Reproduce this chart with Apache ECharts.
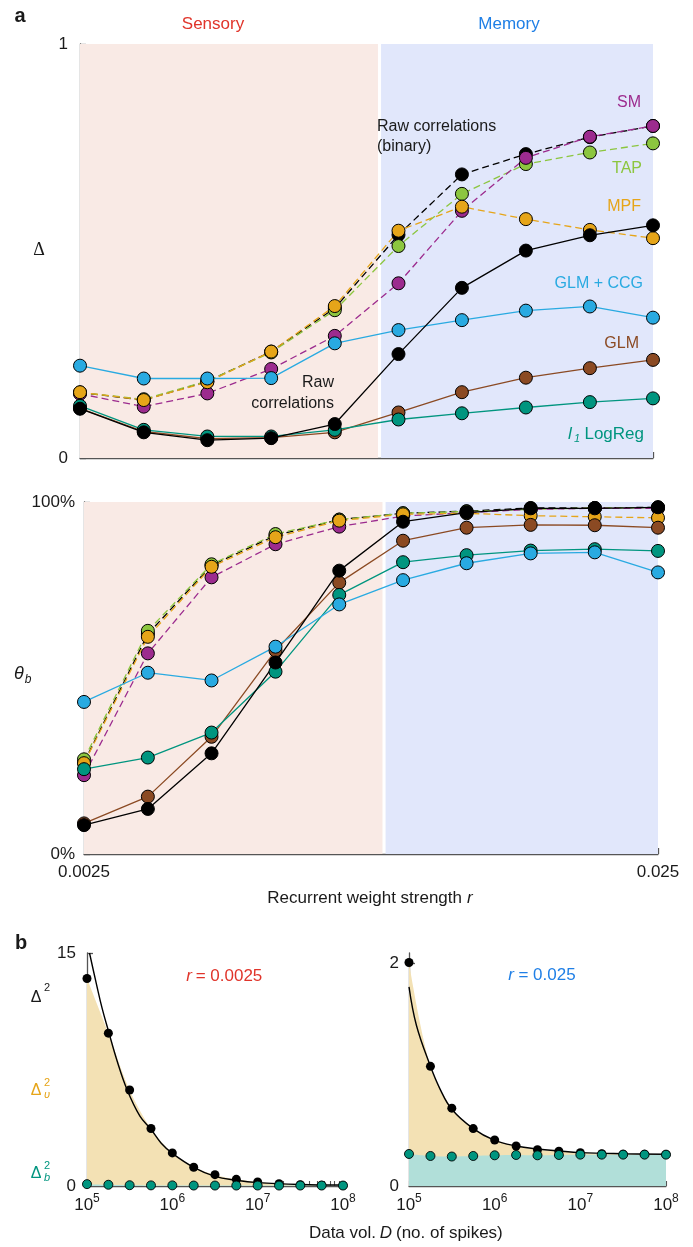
<!DOCTYPE html>
<html>
<head>
<meta charset="utf-8">
<script src="https://cdn.jsdelivr.net/npm/echarts@6/dist/echarts.min.js"></script>
<style>
  html, body { margin: 0; padding: 0; background: #fff; }
  #chart { width: 693px; height: 1247px; }
</style>
</head>
<body>
<div id="chart"></div>
<script>
// ---------- panel a: recurrent weight strength sweep ----------
const rValues = [0.0025, 0.00323, 0.00417, 0.00539, 0.00696, 0.00899, 0.0116, 0.0150, 0.0194, 0.025];
const regimeBoundary = 0.00833;           // sensory / memory split
const rTickLabels = ['0.0025', '0.025'];

// reconstruction error Δ
const deltaRawBinary = [0.158, 0.140, 0.185, 0.257, 0.362, 0.539, 0.685, 0.734, 0.775, 0.802];
const deltaTAP       = [0.158, 0.142, 0.186, 0.255, 0.357, 0.512, 0.638, 0.710, 0.738, 0.760];
const deltaSM        = [0.155, 0.124, 0.156, 0.215, 0.295, 0.422, 0.597, 0.725, 0.776, 0.802];
const deltaMPF       = [0.159, 0.140, 0.183, 0.257, 0.367, 0.549, 0.607, 0.577, 0.551, 0.531];
const deltaGLM       = [0.120, 0.064, 0.047, 0.049, 0.062, 0.110, 0.159, 0.194, 0.217, 0.237];
const deltaLogReg    = [0.126, 0.068, 0.052, 0.052, 0.068, 0.093, 0.108, 0.122, 0.135, 0.144];
const deltaCCG       = [0.223, 0.192, 0.192, 0.193, 0.277, 0.309, 0.333, 0.356, 0.366, 0.339];
const deltaRaw       = [0.119, 0.062, 0.043, 0.048, 0.082, 0.251, 0.411, 0.501, 0.538, 0.562];

// fraction of correctly classified couplings θb (%)
const thetaRawBinary = [26.0, 62.5, 82.0, 90.5, 95.0, 96.8, 97.4, 98.3, 98.3, 98.5];
const thetaTAP       = [26.9, 63.4, 82.3, 90.9, 95.0, 96.8, 97.3, 97.9, 98.3, 98.4];
const thetaSM        = [22.4, 57.0, 78.6, 88.0, 93.0, 96.0, 97.0, 97.9, 98.2, 98.2];
const thetaMPF       = [25.8, 61.7, 81.6, 90.0, 94.7, 96.5, 96.8, 96.1, 95.8, 95.5];
const thetaGLM       = [8.7, 16.3, 33.3, 57.8, 77.1, 89.0, 92.7, 93.5, 93.4, 92.7];
const thetaLogReg    = [24.1, 27.4, 34.5, 51.8, 73.6, 82.9, 84.9, 86.2, 86.6, 86.1];
const thetaCCG       = [43.2, 51.5, 49.3, 58.9, 70.9, 77.8, 82.6, 85.4, 85.7, 80.0];
const thetaRaw       = [8.2, 12.8, 28.6, 54.4, 80.5, 94.4, 97.0, 98.2, 98.2, 98.5];

// ---------- panel b: error vs data volume ----------
const dataVol     = [1e5, 1.78e5, 3.16e5, 5.62e5, 1e6, 1.78e6, 3.16e6, 5.62e6, 1e7, 1.78e7, 3.16e7, 5.62e7, 1e8];
const sensDelta2  = [13.36, 9.84, 6.18, 3.70, 2.13, 1.21, 0.73, 0.43, 0.26, 0.15, 0.08, 0.05, 0.03];
const sensDeltaB2 = [0.12, 0.08, 0.05, 0.04, 0.04, 0.03, 0.03, 0.03, 0.03, 0.03, 0.03, 0.03, 0.03];
const memDelta2   = [2.01, 1.076, 0.70, 0.516, 0.414, 0.36, 0.327, 0.312, 0.30, 0.29, 0.286, 0.285, 0.284];
const memDeltaB2  = [0.288, 0.27, 0.265, 0.27, 0.276, 0.279, 0.276, 0.279, 0.282, 0.282, 0.282, 0.282, 0.282];

// fitted error curves
const sensFitD = [1.07e5, 1.29e5, 1.51e5, 1.78e5, 2.24e5, 2.95e5, 4.17e5, 5.62e5, 7.41e5, 1e6, 1.78e6, 3.16e6, 5.62e6, 1e7, 3.16e7, 1e8];
const sensFit  = [15.0, 13.0, 11.4, 10.0, 8.1, 6.2, 4.5, 3.65, 2.75, 2.1, 1.2, 0.62, 0.37, 0.22, 0.1, 0.06];
const memFitD  = [1e5, 1.22e5, 1.78e5, 2.29e5, 3.16e5, 5.62e5, 1e6, 1.78e6, 3.16e6, 5.62e6, 1e7, 3.16e7, 1e8];
const memFit   = [1.79, 1.445, 1.076, 0.876, 0.69, 0.516, 0.41, 0.36, 0.333, 0.315, 0.30, 0.29, 0.285];

const dExpTicks = [5, 6, 7, 8];

// ---------- styling ----------
const FONT = "'Liberation Sans', Arial, Helvetica, sans-serif";
const SERIF = "'Liberation Serif', 'DejaVu Serif', serif";
const AXIS = '#555';
const TXT = '#1a1a1a';
const C = {
  raw: '#000000', sm: '#9c2b8e', tap: '#8cc63f', mpf: '#e6a519',
  glm: '#8b4a23', logreg: '#00957f', ccg: '#29aae1',
  sensory: '#e0342a', memory: '#1f7fe6',
  pink: '#f9eae5', blue: '#e1e7fb', wheat: '#f3e1b4', tealFill: '#b1dfd9'
};

const lg = Math.log10;
const rMin = lg(rValues[0]), rMax = lg(rValues[rValues.length - 1]);
const gap = 0.0027;

function methodSeries(values, color, dashed, g) {
  return {
    type: 'line', xAxisIndex: g, yAxisIndex: g,
    data: rValues.map((r, i) => [lg(r), values[i]]),
    symbol: 'circle', symbolSize: 13,
    lineStyle: { color, width: 1.3, type: dashed ? [7, 4] : 'solid' },
    itemStyle: { color, borderColor: '#000', borderWidth: 1, opacity: 1 },
    z: 3, silent: true
  };
}

function regimeBackground(g) {
  return {
    type: 'line', xAxisIndex: g, yAxisIndex: g, data: [], z: -1, silent: true,
    markArea: {
      silent: true,
      data: [
        [{ xAxis: rMin, itemStyle: { color: C.pink } }, { xAxis: lg(regimeBoundary) - gap }],
        [{ xAxis: lg(regimeBoundary) + gap, itemStyle: { color: C.blue } }, { xAxis: rMax }]
      ]
    }
  };
}

function panelSeries(g, vals) {
  return [
    regimeBackground(g),
    methodSeries(vals.binary, C.raw, true, g),
    methodSeries(vals.tap, C.tap, true, g),
    methodSeries(vals.sm, C.sm, true, g),
    methodSeries(vals.mpf, C.mpf, true, g),
    methodSeries(vals.glm, C.glm, false, g),
    methodSeries(vals.logreg, C.logreg, false, g),
    methodSeries(vals.ccg, C.ccg, false, g),
    methodSeries(vals.raw, C.raw, false, g)
  ];
}

const oddTicks = rValues.filter((r, i) => i % 2 === 1).map(lg);

function rAxis(g, showLabels) {
  return {
    type: 'value', gridIndex: g, min: rMin, max: rMax,
    axisLine: { lineStyle: { color: AXIS, width: 1.3 } },
    axisTick: { show: true, inside: true, length: 6, customValues: oddTicks, lineStyle: { color: AXIS, width: 1.3 } },
    axisLabel: {
      show: showLabels, customValues: [rMin, rMax], margin: 10,
      fontSize: 17, color: TXT, fontFamily: FONT,
      formatter: v => (Math.abs(v - rMin) < 1e-9 ? rTickLabels[0] : rTickLabels[1])
    },
    splitLine: { show: false }
  };
}

function valAxis(g, max, interval, labelVals, fmt, tickVals, margin) {
  const ax = {
    type: 'value', gridIndex: g, min: 0, max,
    axisLine: { show: true, lineStyle: { color: AXIS, width: 1.3 } },
    axisTick: { show: true, inside: true, length: 6, lineStyle: { color: AXIS, width: 1.3 } },
    axisLabel: { customValues: labelVals, formatter: fmt, margin, fontSize: 17, color: TXT, fontFamily: FONT },
    splitLine: { show: false }
  };
  if (interval) ax.interval = interval;
  if (tickVals) ax.axisTick.customValues = tickVals;
  return ax;
}

// log-spaced minor ticks for data volume axes
const dTicks = [];
for (let e = 5; e < 8; e++) for (let k = 1; k <= 9; k++) dTicks.push(lg(k * Math.pow(10, e)));
dTicks.push(8);

function dAxis(g) {
  return {
    type: 'value', gridIndex: g, min: 5, max: 8,
    axisLine: { lineStyle: { color: AXIS, width: 1.3 } },
    axisTick: { show: true, inside: true, length: 5, customValues: dTicks, lineStyle: { color: AXIS, width: 1.1 } },
    axisLabel: {
      customValues: dExpTicks, margin: 7, color: TXT, fontFamily: FONT, fontSize: 17,
      formatter: v => '{b|10}{s|' + v + '}',
      rich: {
        b: { fontSize: 17, fontFamily: FONT, color: TXT, lineHeight: 21, verticalAlign: 'bottom' },
        s: { fontSize: 12, fontFamily: FONT, color: TXT, lineHeight: 12, verticalAlign: 'top' }
      }
    },
    splitLine: { show: false }
  };
}

function volSeries(g, black, teal, fitD, fit) {
  const pts = (arr) => dataVol.map((d, i) => [lg(d), arr[i]]);
  return [
    { type: 'line', xAxisIndex: g, yAxisIndex: g, data: pts(black), smooth: 0.35, symbol: 'none',
      lineStyle: { width: 0, opacity: 0 }, areaStyle: { color: C.wheat, opacity: 1 }, z: 1, silent: true },
    { type: 'line', xAxisIndex: g, yAxisIndex: g, data: pts(teal), smooth: 0.35, symbol: 'none',
      lineStyle: { width: 0, opacity: 0 }, areaStyle: { color: C.tealFill, opacity: 1 }, z: 1, silent: true },
    { type: 'line', xAxisIndex: g, yAxisIndex: g, data: fitD.map((d, i) => [lg(d), fit[i]]), smooth: 0.4,
      symbol: 'none', lineStyle: { color: '#000', width: 1.4 }, z: 2, silent: true },
    { type: 'scatter', xAxisIndex: g, yAxisIndex: g, data: pts(black), symbolSize: 9,
      itemStyle: { color: '#000', opacity: 1 }, z: 3, silent: true },
    { type: 'scatter', xAxisIndex: g, yAxisIndex: g, data: pts(teal), symbolSize: 9,
      itemStyle: { color: C.logreg, borderColor: '#000', borderWidth: 0.9, opacity: 1 }, z: 4, silent: true }
  ];
}

function txt(x, y, text, opts = {}) {
  const align = opts.align || 'center';
  return {
    type: 'text', x, y, silent: true, z: 100,
    style: {
      text, fill: opts.color || TXT,
      fontSize: opts.size || 16, fontFamily: opts.family || FONT,
      fontStyle: opts.italic ? 'italic' : 'normal', fontWeight: opts.bold ? 'bold' : 'normal',
      align, textAlign: align, verticalAlign: 'middle', textVerticalAlign: 'middle'
    }
  };
}

const graphics = [
  txt(20, 16, 'a', { bold: true, size: 20 }),
  txt(213, 24, 'Sensory', { color: C.sensory, size: 17 }),
  txt(509, 24, 'Memory', { color: C.memory, size: 17 }),
  txt(39, 250, 'Δ', { family: SERIF, size: 18 }),
  txt(641, 103, 'SM', { color: C.sm, align: 'right' }),
  txt(377, 127, 'Raw correlations', { align: 'left' }),
  txt(377, 147, '(binary)', { align: 'left' }),
  txt(642, 169, 'TAP', { color: C.tap, align: 'right' }),
  txt(641, 207, 'MPF', { color: C.mpf, align: 'right' }),
  txt(643, 284, 'GLM + CCG', { color: C.ccg, align: 'right' }),
  txt(639, 344, 'GLM', { color: C.glm, align: 'right' }),
  txt(568, 434, 'l', { color: C.logreg, italic: true, align: 'left', size: 17 }),
  txt(574, 439, '1', { color: C.logreg, italic: true, align: 'left', size: 11 }),
  txt(644, 434, 'LogReg', { color: C.logreg, align: 'right', size: 17 }),
  txt(334, 383, 'Raw', { align: 'right' }),
  txt(334, 404, 'correlations', { align: 'right' }),
  txt(19, 674, 'θ', { italic: true, size: 18 }),
  txt(28, 680, 'b', { italic: true, size: 12 }),
  txt(462, 898, 'Recurrent weight strength', { size: 17, align: 'right' }),
  txt(467, 898, 'r', { italic: true, size: 17, align: 'left' }),
  txt(21, 943, 'b', { bold: true, size: 20 }),
  txt(36, 998, 'Δ', { size: 16 }),
  txt(47, 988, '2', { size: 11 }),
  txt(36, 1091, 'Δ', { size: 16, color: C.mpf }),
  txt(47, 1083, '2', { size: 11, color: C.mpf }),
  txt(47, 1095, 'υ', { size: 11, color: C.mpf, italic: true }),
  txt(36, 1174, 'Δ', { size: 16, color: C.logreg }),
  txt(47, 1166, '2', { size: 11, color: C.logreg }),
  txt(47, 1178, 'b', { size: 11, color: C.logreg, italic: true }),
  txt(189, 976, 'r', { italic: true, color: C.sensory, size: 17 }),
  txt(229, 976, '= 0.0025', { color: C.sensory, size: 17 }),
  txt(511, 975, 'r', { italic: true, color: C.memory, size: 17 }),
  txt(547, 975, '= 0.025', { color: C.memory, size: 17 }),
  txt(376, 1233, 'Data vol.', { size: 17, align: 'right' }),
  txt(386, 1233, 'D', { size: 17, italic: true }),
  txt(396, 1233, '(no. of spikes)', { size: 17, align: 'left' })
];

const option = {
  animation: false,
  textStyle: { fontFamily: FONT },
  grid: [
    { left: 80, top: 44, width: 573, height: 414 },
    { left: 84, top: 502, width: 574, height: 352 },
    { left: 87, top: 953, width: 256, height: 233 },
    { left: 409, top: 953, width: 257, height: 233 }
  ],
  xAxis: [rAxis(0, false), rAxis(1, true), dAxis(2), dAxis(3)],
  yAxis: [
    valAxis(0, 1, 0.2, [0, 1], v => String(v), null, 12),
    valAxis(1, 100, 20, [0, 100], v => v + '%', null, 9),
    valAxis(2, 15, null, [0, 15], v => String(v), [15], 11),
    valAxis(3, 2.095, null, [0, 2], v => String(v), [2], 10)
  ],
  series: [
    ...panelSeries(0, { binary: deltaRawBinary, tap: deltaTAP, sm: deltaSM, mpf: deltaMPF, glm: deltaGLM, logreg: deltaLogReg, ccg: deltaCCG, raw: deltaRaw }),
    ...panelSeries(1, { binary: thetaRawBinary, tap: thetaTAP, sm: thetaSM, mpf: thetaMPF, glm: thetaGLM, logreg: thetaLogReg, ccg: thetaCCG, raw: thetaRaw }),
    ...volSeries(2, sensDelta2, sensDeltaB2, sensFitD, sensFit),
    ...volSeries(3, memDelta2, memDeltaB2, memFitD, memFit)
  ],
  graphic: graphics
};

const chart = echarts.init(document.getElementById('chart'), null, { renderer: 'canvas' });
chart.setOption(option);
</script>
</body>
</html>
